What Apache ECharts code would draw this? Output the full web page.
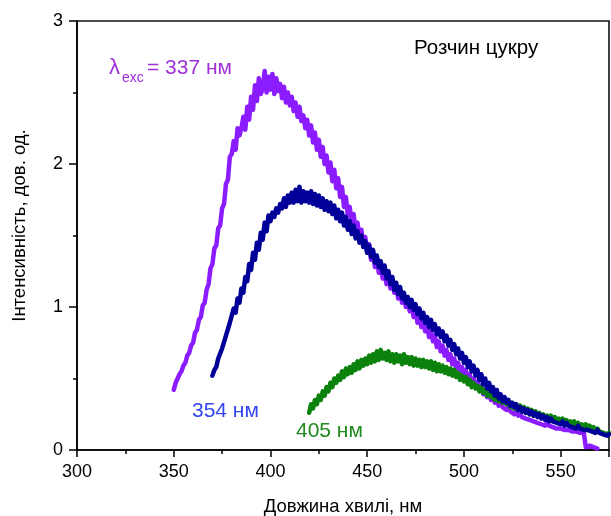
<!DOCTYPE html>
<html>
<head>
<meta charset="utf-8">
<script src="https://cdn.jsdelivr.net/npm/echarts@6/dist/echarts.min.js"></script>
<style>
html,body{margin:0;padding:0;background:#fff;}
#chart{width:611px;height:516px;}
</style>
</head>
<body>
<div id="chart"></div>
<script>
// x-axis tick labels (nm) and y-axis tick labels
const xTicks = [300, 350, 400, 450, 500, 550];
const yTicks = [0, 1, 2, 3];

// spectra sampled every 1 nm
const step = 1;
const purpleStart = 350; // λexc = 337 nm
const purpleValues = [
0.42,0.47,0.48,0.53,0.55,0.59,0.61,0.66,0.68,0.73,
0.75,0.82,0.84,0.91,0.93,1.01,1.03,1.12,1.16,1.27,
1.30,1.41,1.43,1.55,1.57,1.69,1.72,1.86,1.89,2.05,
2.07,2.16,2.10,2.25,2.20,2.25,2.33,2.24,2.40,2.31,
2.47,2.38,2.55,2.44,2.60,2.49,2.53,2.65,2.50,2.61,
2.52,2.63,2.49,2.60,2.51,2.56,2.46,2.54,2.43,2.50,
2.41,2.47,2.37,2.43,2.33,2.40,2.30,2.34,2.25,2.31,
2.20,2.27,2.15,2.22,2.10,2.17,2.05,2.12,2.00,2.06,
1.94,2.01,1.88,1.96,1.83,1.90,1.77,1.84,1.70,1.77,
1.64,1.70,1.58,1.65,1.53,1.59,1.48,1.54,1.43,1.49,
1.38,1.44,1.33,1.39,1.28,1.34,1.24,1.30,1.20,1.26,
1.16,1.22,1.13,1.18,1.10,1.15,1.06,1.12,1.03,1.08,
1.00,1.05,0.97,1.01,0.93,0.98,0.89,0.94,0.86,0.90,
0.83,0.87,0.79,0.83,0.76,0.80,0.72,0.76,0.69,0.73,
0.66,0.70,0.63,0.67,0.60,0.64,0.57,0.61,0.55,0.58,
0.52,0.56,0.49,0.53,0.47,0.50,0.44,0.48,0.42,0.45,
0.39,0.42,0.37,0.39,0.35,0.37,0.33,0.35,0.31,0.33,
0.30,0.31,0.28,0.30,0.27,0.28,0.25,0.27,0.24,0.26,
0.23,0.24,0.22,0.23,0.21,0.22,0.20,0.21,0.19,0.20,
0.18,0.19,0.17,0.19,0.17,0.18,0.16,0.17,0.15,0.16,
0.15,0.16,0.14,0.15,0.14,0.15,0.13,0.14,0.13,0.14,
0.12,0.13,0.12,0.02,0.02,0.03,0.02,0.02,0.01,0.01
];

const blueStart = 370; // λexc = 354 nm
const blueValues = [
0.52,0.56,0.58,0.64,0.65,0.71,0.72,0.80,0.80,0.89,
0.90,0.99,0.96,1.06,1.03,1.13,1.10,1.21,1.18,1.30,
1.26,1.38,1.33,1.45,1.40,1.52,1.47,1.59,1.53,1.64,
1.60,1.66,1.63,1.69,1.66,1.72,1.69,1.76,1.70,1.78,
1.73,1.80,1.73,1.82,1.74,1.84,1.73,1.81,1.74,1.80,
1.73,1.81,1.72,1.79,1.71,1.78,1.70,1.76,1.68,1.74,
1.67,1.73,1.65,1.71,1.62,1.68,1.60,1.66,1.57,1.63,
1.54,1.60,1.51,1.57,1.48,1.53,1.45,1.50,1.42,1.46,
1.38,1.43,1.35,1.40,1.31,1.36,1.28,1.32,1.24,1.29,
1.20,1.25,1.16,1.21,1.12,1.17,1.09,1.14,1.06,1.10,
1.03,1.07,1.00,1.05,0.98,1.02,0.95,0.99,0.92,0.96,
0.89,0.93,0.86,0.91,0.84,0.88,0.81,0.85,0.79,0.83,
0.76,0.80,0.73,0.77,0.70,0.74,0.67,0.71,0.64,0.68,
0.61,0.65,0.58,0.62,0.55,0.59,0.52,0.56,0.49,0.53,
0.46,0.50,0.43,0.47,0.41,0.44,0.38,0.42,0.36,0.39,
0.34,0.37,0.33,0.35,0.31,0.33,0.30,0.32,0.28,0.30,
0.27,0.29,0.26,0.28,0.25,0.27,0.24,0.26,0.23,0.25,
0.22,0.24,0.21,0.23,0.20,0.22,0.20,0.21,0.19,0.20,
0.18,0.20,0.17,0.19,0.17,0.18,0.16,0.17,0.15,0.17,
0.15,0.16,0.14,0.15,0.14,0.15,0.13,0.14,0.12,0.14,
0.12,0.13,0.11,0.12,0.10,0.11
];

const greenStart = 420; // λexc = 405 nm
const greenValues = [
0.26,0.32,0.29,0.35,0.32,0.38,0.35,0.41,0.38,0.44,
0.41,0.47,0.44,0.50,0.47,0.52,0.49,0.55,0.51,0.57,
0.53,0.58,0.54,0.60,0.56,0.62,0.57,0.63,0.59,0.64,
0.60,0.66,0.61,0.67,0.62,0.69,0.63,0.70,0.64,0.68,
0.63,0.69,0.62,0.67,0.61,0.67,0.62,0.66,0.60,0.67,
0.61,0.65,0.60,0.65,0.59,0.64,0.59,0.63,0.58,0.63,
0.58,0.62,0.57,0.62,0.56,0.61,0.55,0.60,0.55,0.59,
0.54,0.58,0.53,0.57,0.52,0.56,0.51,0.54,0.49,0.52,
0.48,0.51,0.46,0.49,0.44,0.47,0.43,0.45,0.41,0.44,
0.40,0.42,0.38,0.41,0.37,0.39,0.35,0.38,0.34,0.36,
0.33,0.35,0.32,0.34,0.30,0.33,0.29,0.32,0.28,0.31,
0.27,0.30,0.26,0.29,0.25,0.28,0.24,0.27,0.24,0.26,
0.23,0.25,0.22,0.24,0.21,0.24,0.20,0.23,0.20,0.22,
0.19,0.22,0.18,0.21,0.18,0.20,0.17,0.20,0.16,0.19,
0.16,0.18,0.15,0.18,0.14,0.17,0.14,0.16,0.13,0.15,
0.13,0.14,0.12,0.13,0.11,0.12
];

function pairs(start, vals){ return vals.map((v,i)=>[start + i*step, v]); }

const FONT = '"Liberation Sans", Arial, sans-serif';
const chart = echarts.init(document.getElementById('chart'), null, {renderer:'canvas'});

chart.setOption({
  animation: false,
  backgroundColor: '#fff',
  grid: {left: 77, right: 2, top: 21, bottom: 66, containLabel: false, outerBoundsMode: 'none',
         show: true, borderColor: '#111', borderWidth: 1.6, backgroundColor: 'transparent'},
  xAxis: [{
    type: 'value', min: 300, max: 575, interval: 50, position: 'bottom',
    axisLine: {show: true, onZero: false, lineStyle: {color: '#000', width: 1.6}},
    axisTick: {show: true, length: 7, lineStyle: {color: '#000', width: 1.5}},
    axisLabel: {color: '#000', fontSize: 18, fontFamily: FONT, margin: 13,
      formatter: v => xTicks.includes(v) ? String(v) : ''},
    splitLine: {show: false},
    name: 'Довжина хвилі, нм', nameLocation: 'middle', nameGap: 47,
    nameTextStyle: {color: '#000', fontSize: 18.5, fontFamily: FONT}
  }, {
    type: 'value', min: 300, max: 575, interval: 25, position: 'bottom', offset: 0,
    axisLine: {show: false},
    axisTick: {show: true, length: 4, lineStyle: {color: '#000', width: 1.5}},
    axisLabel: {show: false}, splitLine: {show: false}
  }],
  yAxis: {
    type: 'value', min: 0, max: 3, interval: 1,
    axisLine: {show: true, onZero: false, lineStyle: {color: '#000', width: 1.6}},
    axisTick: {show: true, length: 8, lineStyle: {color: '#000', width: 1.5}},
    minorTick: {show: true, splitNumber: 2, length: 4, lineStyle: {color: '#000', width: 1.5}},
    axisLabel: {color: '#000', fontSize: 18, fontFamily: FONT, margin: 14,
      formatter: v => yTicks.includes(v) ? String(v) : ''},
    splitLine: {show: false},
    name: 'Інтенсивність, дов. од.', nameLocation: 'middle', nameGap: 48, nameRotate: 90,
    nameTextStyle: {color: '#000', fontSize: 18.5, fontFamily: FONT, padding: [0,0,0,20]}
  },
  series: [
    {type: 'line', name: '337', data: pairs(purpleStart, purpleValues), showSymbol: false,
     lineStyle: {color: '#8a1cff', width: 4.5, join: 'round', cap: 'round'}, itemStyle: {color: '#8a1cff'}, z: 2},
    {type: 'line', name: '405', data: pairs(greenStart, greenValues), showSymbol: false,
     lineStyle: {color: '#0b820b', width: 4.5, join: 'round', cap: 'round'}, itemStyle: {color: '#0b820b'}, z: 3},
    {type: 'line', name: '354', data: pairs(blueStart, blueValues), showSymbol: false,
     lineStyle: {color: '#000099', width: 4.5, join: 'round', cap: 'round'}, itemStyle: {color: '#000099'}, z: 4}
  ],
  graphic: [
    {type: 'text', left: 414, top: 38, style: {text: 'Розчин цукру', fill: '#000', font: '20.5px ' + FONT}},
    {type: 'text', left: 109, top: 57, style: {text: 'λ', fill: '#a030d8', font: '22px ' + FONT}},
    {type: 'text', left: 122, top: 71, style: {text: 'exc', fill: '#a030d8', font: '14px ' + FONT}},
    {type: 'text', left: 147, top: 58, style: {text: '= 337 нм', fill: '#a030d8', font: '21px ' + FONT}},
    {type: 'text', left: 192, top: 401, style: {text: '354 нм', fill: '#3344f0', font: '21px ' + FONT}},
    {type: 'text', left: 296, top: 421, style: {text: '405 нм', fill: '#1f8a1f', font: '21px ' + FONT}}
  ]
});
</script>
</body>
</html>
